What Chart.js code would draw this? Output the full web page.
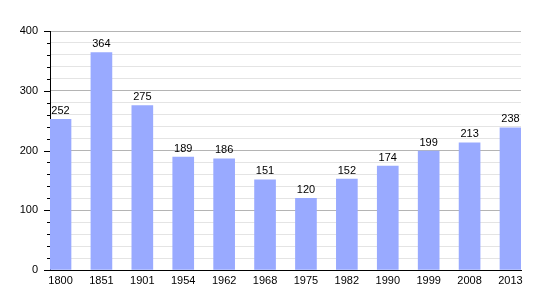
<!DOCTYPE html>
<html>
<head>
<meta charset="utf-8">
<script src="https://cdn.jsdelivr.net/npm/chart.js@4/dist/chart.umd.min.js"></script>
<style>
  html, body { margin: 0; padding: 0; background: #fff; }
  #wrap { width: 550px; height: 300px; }
</style>
</head>
<body>
<div id="wrap"><canvas id="popChart" width="550" height="300"></canvas></div>
<script>
const years = ['1800', '1851', '1901', '1954', '1962', '1968', '1975', '1982', '1990', '1999', '2008', '2013'];
const population = [252, 364, 275, 189, 186, 151, 120, 152, 174, 199, 213, 238];
const yTicks = [0, 100, 200, 300, 400];

const fontFamily = '"Liberation Sans", Arial, sans-serif';

// little tick marks left of the y axis, long for hundreds and short for minor steps
const tickMarks = {
  id: 'tickMarks',
  afterDraw(chart) {
    const ctx = chart.ctx;
    const y = chart.scales.y;
    const left = chart.chartArea.left;
    ctx.save();
    ctx.strokeStyle = '#000';
    ctx.lineWidth = 1;
    for (let v = 0; v <= 400; v += 20) {
      const py = Math.round(y.getPixelForValue(v)) + 0.5;
      const len = v % 100 === 0 ? 6 : 3;
      ctx.beginPath();
      ctx.moveTo(left - len, py);
      ctx.lineTo(left, py);
      ctx.stroke();
    }
    ctx.restore();
  }
};

// value written above each bar
const barLabels = {
  id: 'barLabels',
  afterDatasetsDraw(chart) {
    const ctx = chart.ctx;
    const meta = chart.getDatasetMeta(0);
    ctx.save();
    ctx.font = '11px ' + fontFamily;
    ctx.fillStyle = '#000';
    ctx.textAlign = 'center';
    ctx.textBaseline = 'bottom';
    meta.data.forEach((bar, i) => {
      ctx.fillText(String(population[i]), bar.x, bar.y - 3);
    });
    ctx.restore();
  }
};

const ctx = document.getElementById('popChart').getContext('2d');
new Chart(ctx, {
  type: 'bar',
  data: {
    datasets: [{
      data: population.map((v, i) => ({ x: i, y: v })),
      backgroundColor: '#99aaff',
      borderWidth: 0,
      barThickness: 21
    }]
  },
  options: {
    responsive: false,
    animation: false,
    events: [],
    layout: { padding: { left: 0, right: 29, top: 31, bottom: 0 } },
    plugins: {
      legend: { display: false },
      tooltip: { enabled: false }
    },
    scales: {
      x: {
        type: 'linear',
        offset: false,
        bounds: 'ticks',
        min: -0.257,
        max: 11.257,
        afterBuildTicks: (scale) => { scale.ticks = years.map((y, i) => ({ value: i })); },
        afterFit: (scale) => { scale.height = 30; },
        grid: { display: false, drawTicks: false, offset: false },
        border: { display: true, color: '#000', width: 1 },
        ticks: {
          autoSkip: false,
          maxRotation: 0,
          padding: 4,
          color: '#000',
          font: { family: fontFamily, size: 11 },
          callback: (v) => years[v] ?? ''
        }
      },
      y: {
        min: 0,
        max: 400,
        afterBuildTicks: (scale) => {
          const t = [];
          for (let v = 0; v <= 400; v += 20) t.push({ value: v });
          scale.ticks = t;
        },
        afterFit: (scale) => { scale.width = 50; },
        grid: {
          drawTicks: false,
          color: (c) => (c.tick && c.tick.value % 100 === 0) ? '#b4b4b4' : '#e4e4e4',
          lineWidth: 1
        },
        border: { display: true, color: '#000', width: 1 },
        ticks: {
          autoSkip: false,
          padding: 12,
          color: '#000',
          font: { family: fontFamily, size: 11 },
          callback: (v) => yTicks.includes(v) ? String(v) : ''
        }
      }
    }
  },
  plugins: [tickMarks, barLabels]
});
</script>
</body>
</html>
